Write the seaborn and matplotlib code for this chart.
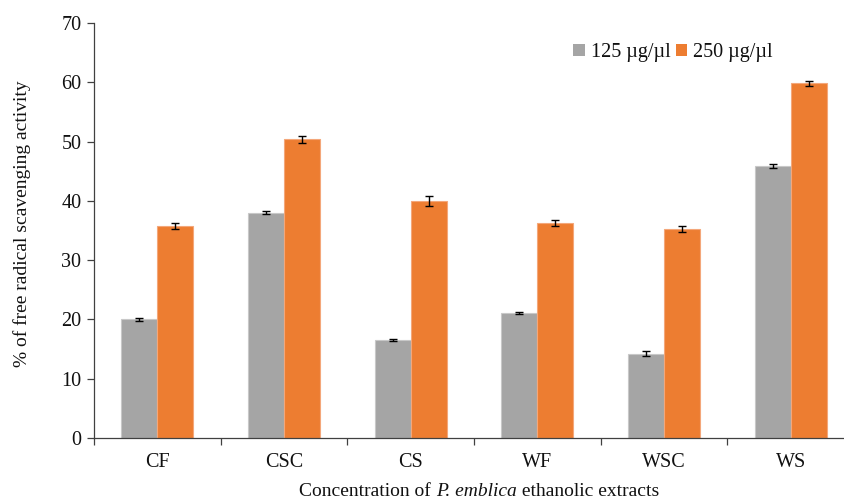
import matplotlib
matplotlib.use("Agg")
import matplotlib.pyplot as plt
from matplotlib.offsetbox import TextArea, HPacker, AnchoredOffsetbox
import seaborn as sns
import pandas as pd
import numpy as np

categories = ["CF", "CSC", "CS", "WF", "WSC", "WS"]
series_names = ["125 µg/µl", "250 µg/µl"]
values_125 = [20.0, 38.0, 16.5, 21.1, 14.2, 45.9]
values_250 = [35.8, 50.4, 40.0, 36.2, 35.2, 59.8]
err_125 = [0.3, 0.3, 0.2, 0.2, 0.4, 0.4]
err_250 = [0.5, 0.6, 0.8, 0.5, 0.5, 0.5]
yticks = [0, 10, 20, 30, 40, 50, 60, 70]

sns.set_style("white")
plt.rcParams["font.family"] = ["Liberation Serif", "DejaVu Serif"]
plt.rcParams["text.color"] = "#111111"
plt.rcParams["axes.labelcolor"] = "#111111"
plt.rcParams["xtick.labelcolor"] = "#111111"
plt.rcParams["ytick.labelcolor"] = "#111111"

df = pd.DataFrame({
    "cat": categories * 2,
    "series": [series_names[0]] * 6 + [series_names[1]] * 6,
    "val": values_125 + values_250,
    "err": err_125 + err_250,
})

fig = plt.figure(figsize=(8.45, 5.01), dpi=100)
ax = fig.add_axes([94 / 845, 1 - 438 / 501, 760 / 845, 415 / 501])

palette = {series_names[0]: "#A5A5A5", series_names[1]: "#ED7D31"}
sns.barplot(data=df, x="cat", y="val", hue="series", order=categories,
            hue_order=series_names, palette=palette, width=0.57,
            errorbar=None, saturation=1, linewidth=0, ax=ax)
for cont, ec in zip(ax.containers, ["#c8c8c8", "#f4a77a"]):
    for p in cont.patches:
        p.set_edgecolor(ec)
        p.set_linewidth(0.8)

# error bars placed at bar centres
for cont, errs in zip(ax.containers, [err_125, err_250]):
    xs = [p.get_x() + p.get_width() / 2 for p in cont.patches]
    hs = [p.get_height() for p in cont.patches]
    ax.errorbar(xs, hs, yerr=errs, fmt="none", ecolor="black",
                elinewidth=1.0, capsize=3, capthick=1.0, zorder=5)

ax.set_xlim(-0.5, 5.5)
ax.set_ylim(0, 70)
ax.set_yticks(yticks)
ax.set_yticklabels([str(t) for t in yticks], fontsize=14.5)
ax.set_xticks(range(len(categories)))
ax.set_xticklabels(categories, fontsize=14.5)
ax.tick_params(axis="x", length=0, pad=11)
ax.set_xticks(np.arange(-0.5, 6.0, 1.0), minor=True)
ax.tick_params(axis="x", which="minor", length=5, width=0.9, color="#404040", direction="out", bottom=True)
ax.tick_params(axis="y", length=5, width=0.9, color="#404040", direction="out", left=True, pad=4)

for s in ["top", "right"]:
    ax.spines[s].set_visible(False)
for s in ["left", "bottom"]:
    ax.spines[s].set_color("#404040")
    ax.spines[s].set_linewidth(0.9)

ax.set_ylabel("% of free radical scavenging activity", fontsize=14)
ax.yaxis.set_label_coords(-0.083, 0.516)
ax.set_xlabel("")

# x-axis title with italic species name
tc = "#111111"
parts = [TextArea("Concentration of ", textprops=dict(fontsize=14, color=tc)),
         TextArea("P. emblica", textprops=dict(fontsize=14, style="italic", color=tc)),
         TextArea(" ethanolic extracts", textprops=dict(fontsize=14, color=tc))]
box = HPacker(children=parts, align="baseline", pad=0, sep=0)
anch = AnchoredOffsetbox(loc="center", child=box, frameon=False, pad=0, borderpad=0,
                         bbox_to_anchor=(479 / 845, 1 - 491 / 501),
                         bbox_transform=fig.transFigure)
fig.add_artist(anch)

leg = ax.legend(loc="upper left", bbox_to_anchor=(0.607, 0.995), ncol=2, frameon=False,
                fontsize=14.5, handlelength=0.55, handleheight=0.55, handletextpad=0.3,
                columnspacing=0.3)
for h in leg.legend_handles:
    h.set_edgecolor("none")

fig.savefig("out.png", dpi=100)
